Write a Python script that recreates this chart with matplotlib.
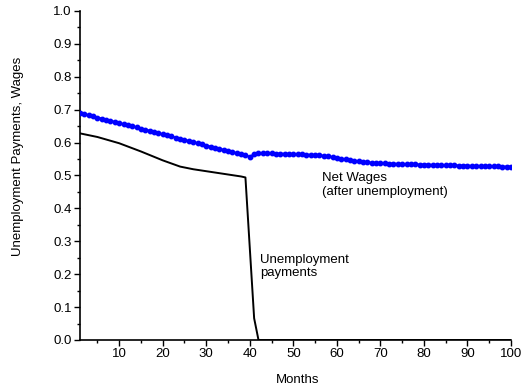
import numpy as np
import matplotlib.pyplot as plt
from matplotlib.ticker import MultipleLocator, FormatStrFormatter

plt.rcParams['font.family'] = ['Liberation Sans', 'DejaVu Sans']

# Net wages after unemployment, one value per month (1..100)
months = np.arange(1, 101)
net_wages = [
    0.690, 0.687, 0.683, 0.680, 0.676, 0.673, 0.670, 0.666, 0.663, 0.659,
    0.656, 0.653, 0.649, 0.646, 0.642, 0.639, 0.636, 0.632, 0.629, 0.625,
    0.622, 0.619, 0.615, 0.612, 0.608, 0.605, 0.602, 0.598, 0.595, 0.591,
    0.588, 0.585, 0.581, 0.578, 0.574, 0.571, 0.568, 0.564, 0.561, 0.557,
    0.564, 0.568, 0.568, 0.567, 0.567, 0.566, 0.566, 0.566, 0.565, 0.565,
    0.564, 0.564, 0.563, 0.563, 0.562, 0.561, 0.560, 0.558, 0.556, 0.554,
    0.551, 0.549, 0.547, 0.545, 0.543, 0.541, 0.540, 0.539, 0.538, 0.537,
    0.537, 0.536, 0.536, 0.535, 0.535, 0.534, 0.534, 0.534, 0.533, 0.533,
    0.533, 0.532, 0.532, 0.532, 0.531, 0.531, 0.531, 0.530, 0.530, 0.530,
    0.529, 0.529, 0.529, 0.528, 0.528, 0.528, 0.528, 0.527, 0.527, 0.527,
]

# Unemployment payments (line only)
ue_months = [1, 5, 10, 15, 20, 24, 27, 30, 35, 38, 39, 40, 41, 42, 100]
ue_payments = [0.628, 0.617, 0.598, 0.573, 0.546, 0.527, 0.519, 0.513,
               0.503, 0.497, 0.494, 0.280, 0.066, 0.0, 0.0]

fig = plt.figure(figsize=(5.29, 3.92), dpi=100)
ax = fig.add_axes([0.1512, 0.1327, 0.8148, 0.8393])

ax.plot(ue_months, ue_payments, color='black', lw=1.4, zorder=3)
ax.plot(months, net_wages, color='blue', lw=1.5, marker='o', ms=3.2,
        mec='blue', mfc='blue', zorder=4)

ax.set_xlim(1, 100)
ax.set_ylim(0, 1.0)
ax.xaxis.set_major_locator(MultipleLocator(10))
ax.xaxis.set_minor_locator(MultipleLocator(5))
ax.yaxis.set_major_locator(MultipleLocator(0.1))
ax.yaxis.set_minor_locator(MultipleLocator(0.05))
ax.yaxis.set_major_formatter(FormatStrFormatter('%.1f'))
ax.tick_params(which='major', direction='out', length=4, width=1,
               labelsize=9.5, pad=2)
ax.tick_params(which='minor', direction='out', length=2.5, width=1)

for s in ['top', 'right']:
    ax.spines[s].set_visible(False)
for s in ['left', 'bottom']:
    ax.spines[s].set_linewidth(1.2)

ax.text(56.6, 0.51, 'Net Wages\n(after unemployment)', fontsize=9.5,
        va='top', ha='left', linespacing=1.15)
ax.text(42.4, 0.262, 'Unemployment\npayments', fontsize=9.5,
        va='top', ha='left', linespacing=1.15)

fig.text(298 / 529, 1 - 380 / 392, 'Months', fontsize=9.5,
         ha='center', va='center')
fig.text(18 / 529, 1 - 156 / 392, 'Unemployment Payments, Wages',
         fontsize=9.5, rotation=90, ha='center', va='center')

fig.savefig('out.png', dpi=100)
